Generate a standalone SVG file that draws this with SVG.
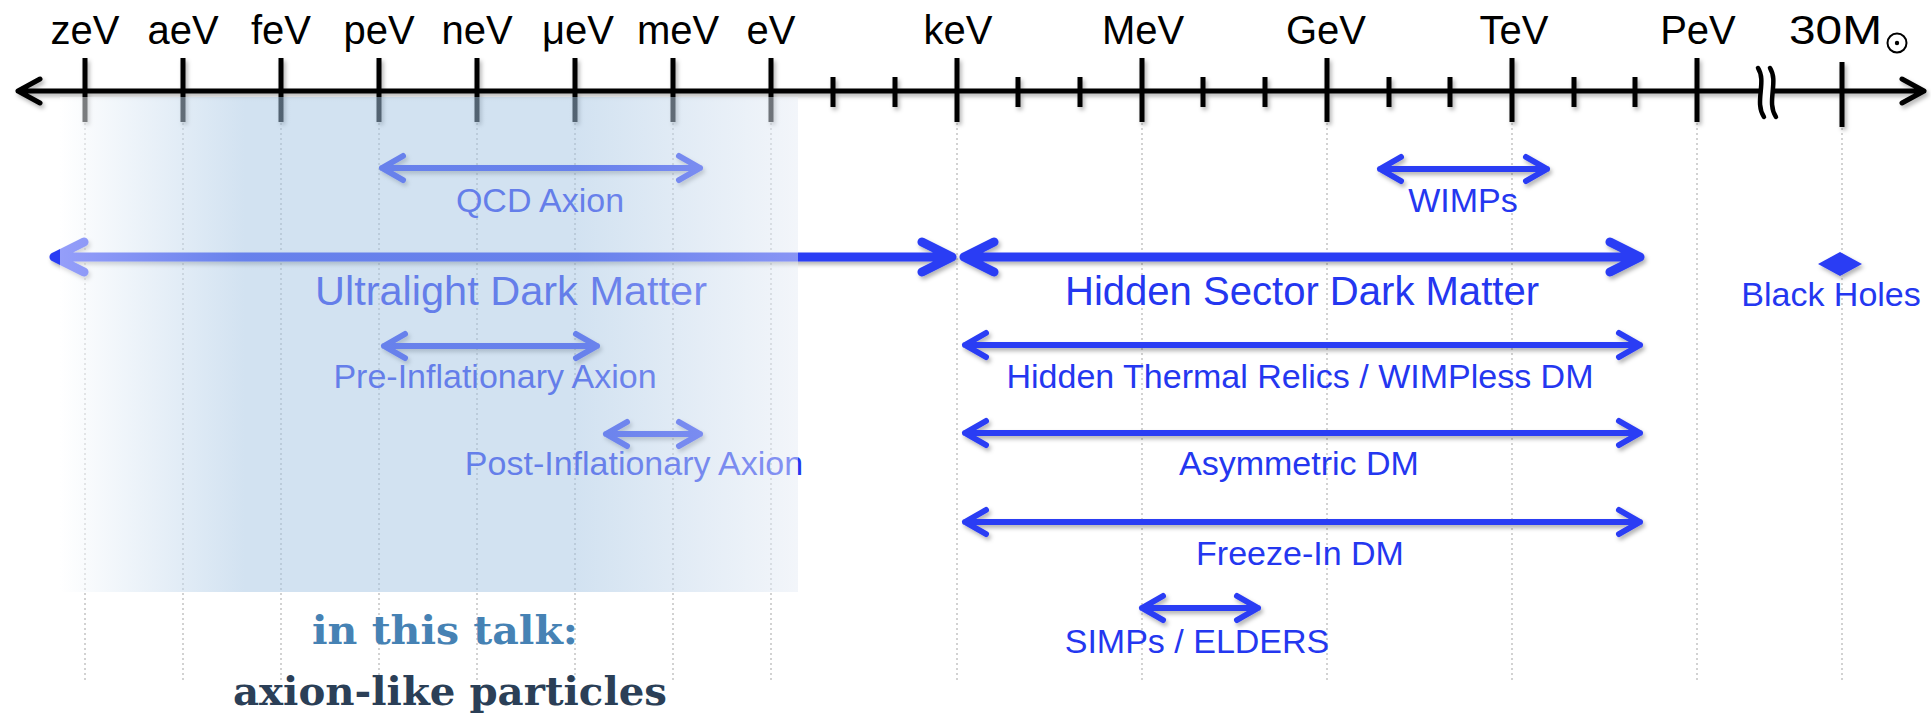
<svg xmlns="http://www.w3.org/2000/svg" width="1931" height="715" viewBox="0 0 1931 715">
<defs>
<style>
.lbl{font-family:"Liberation Sans",Arial,sans-serif;font-size:34px;fill:#2437f0;text-anchor:middle}
.big{font-size:41px}
.ax{font-family:"Liberation Sans",Arial,sans-serif;font-size:40px;fill:#000;text-anchor:middle}
.arr{fill:none;stroke:#2a3cf4;stroke-width:6;stroke-linecap:round;stroke-linejoin:round}
.thick{stroke-width:9}
.tick{stroke:#000;stroke-width:5}
.grid{stroke:#c4c4c4;stroke-width:1.5;stroke-dasharray:2 3}
.bt{font-family:"DejaVu Serif","Liberation Serif",serif;font-weight:bold;font-size:40px;text-anchor:middle}
</style>
<filter id="sh" x="-5%" y="-50%" width="110%" height="200%">
<feDropShadow dx="2" dy="3" stdDeviation="2" flood-color="#000" flood-opacity="0.3"/>
</filter>
<linearGradient id="ov" gradientUnits="userSpaceOnUse" x1="60" y1="0" x2="798" y2="0">
<stop offset="0" stop-color="#ffffff" stop-opacity="0.5"/>
<stop offset="0.25" stop-color="#a5c5e3" stop-opacity="0.5"/>
<stop offset="0.70" stop-color="#a5c5e3" stop-opacity="0.5"/>
<stop offset="1" stop-color="#e6ecf5" stop-opacity="0.5"/>
</linearGradient>
</defs>
<rect width="1931" height="715" fill="#fff"/>

<g id="grid">
<path class="grid" d="M85,123V682M183,123V682M281,123V682M379,123V682M477,123V682M575,123V682M673,123V682M771,123V682M957,123V682M1142,123V682M1327,123V682M1512,123V682M1697,123V682M1842,123V682"/>
</g>

<g id="axis">
<g filter="url(#sh)">
<path d="M40,79L18,91L40,103M18,91H1924M1902,79L1924,91L1902,103" fill="none" stroke="#000" stroke-width="5" stroke-linecap="round" stroke-linejoin="round"/>
<path class="tick" d="M85,58V122M183,58V122M281,58V122M379,58V122M477,58V122M575,58V122M673,58V122M771,58V122M957,58V122M1142,58V122M1327,58V122M1512,58V122M1697,58V122M1842,62V127"/>
<path class="tick" d="M833,77V107M895,77V107M1018,77V107M1080,77V107M1203,77V107M1265,77V107M1389,77V107M1450,77V107M1574,77V107M1635,77V107"/>
</g>
<path d="M1758,66C1767,80 1754,102 1764,119L1776,119C1766,102 1779,80 1770,66Z" fill="#fff"/>
<path d="M1758,68C1767,82 1754,102 1764,117M1770,68C1779,82 1766,102 1776,117" fill="none" stroke="#000" stroke-width="4.5" stroke-linecap="round"/>
<text class="ax" x="85" y="44">zeV</text>
<text class="ax" x="183" y="44">aeV</text>
<text class="ax" x="281" y="44">feV</text>
<text class="ax" x="379" y="44">peV</text>
<text class="ax" x="477" y="44">neV</text>
<text class="ax" x="578" y="44">μeV</text>
<text class="ax" x="678" y="44">meV</text>
<text class="ax" x="771" y="44">eV</text>
<text class="ax" x="958" y="44">keV</text>
<text class="ax" x="1143" y="44">MeV</text>
<text class="ax" x="1326" y="44">GeV</text>
<text class="ax" x="1514" y="44">TeV</text>
<text class="ax" x="1698" y="44">PeV</text>
<text class="ax" x="1789" y="44" style="text-anchor:start" textLength="93" lengthAdjust="spacingAndGlyphs">30M</text>
<circle cx="1897" cy="43" r="9.5" fill="none" stroke="#000" stroke-width="2"/>
<circle cx="1897" cy="43" r="2.2" fill="#000"/>
</g>

<g id="connectors" filter="url(#sh)">
<path id="c-qcd" class="arr" d="M403,156L382,168L403,180M382,168H700M679,156L700,168L679,180"/>
<path id="c-ultralight" class="arr thick" d="M84,242L54,257L84,272M54,257H952M922,242L952,257L922,272"/>
<path id="c-pre" class="arr" d="M405,334L384,346L405,358M384,346H597M576,334L597,346L576,358"/>
<path id="c-post" class="arr" d="M627,422L606,434L627,446M606,434H700M679,422L700,434L679,446"/>
<path id="c-wimps" class="arr" d="M1401,157L1380,169L1401,181M1380,169H1547M1526,157L1547,169L1526,181"/>
<path id="c-hidden" class="arr thick" d="M994,242L964,257L994,272M964,257H1640M1610,242L1640,257L1610,272"/>
<path id="c-thermal" class="arr" d="M986,333L965,345L986,357M965,345H1640M1619,333L1640,345L1619,357"/>
<path id="c-asym" class="arr" d="M986,421L965,433L986,445M965,433H1640M1619,421L1640,433L1619,445"/>
<path id="c-freeze" class="arr" d="M986,510L965,522L986,534M965,522H1640M1619,510L1640,522L1619,534"/>
<path id="c-simps" class="arr" d="M1163,596L1142,608L1163,620M1142,608H1258M1237,596L1258,608L1237,620"/>
<polygon id="c-bh" points="1818,264 1840,252 1862,264 1840,276" fill="#2a3cf4"/>
</g>

<g id="n-qcd"><text class="lbl" x="540" y="212">QCD Axion</text></g>
<g id="n-ultralight"><text class="lbl big" x="511" y="305" textLength="392" lengthAdjust="spacingAndGlyphs">Ultralight Dark Matter</text></g>
<g id="n-pre"><text class="lbl" x="495" y="388">Pre-Inflationary Axion</text></g>
<g id="n-post"><text class="lbl" x="634" y="475">Post-Inflationary Axion</text></g>
<g id="n-wimps"><text class="lbl" x="1463" y="212">WIMPs</text></g>
<g id="n-hidden"><text class="lbl big" x="1302" y="305" textLength="474" lengthAdjust="spacingAndGlyphs">Hidden Sector Dark Matter</text></g>
<g id="n-bh"><text class="lbl" x="1831" y="306">Black Holes</text></g>
<g id="n-thermal"><text class="lbl" x="1300" y="388">Hidden Thermal Relics / WIMPless DM</text></g>
<g id="n-asym"><text class="lbl" x="1299" y="475">Asymmetric DM</text></g>
<g id="n-freeze"><text class="lbl" x="1300" y="565">Freeze-In DM</text></g>
<g id="n-simps"><text class="lbl" x="1197" y="653">SIMPs / ELDERS</text></g>

<g id="overlay">
<rect x="60" y="97" width="738" height="495" fill="url(#ov)"/>
</g>

<g id="n-talk">
<text class="bt" x="445" y="644" fill="#4682b4" textLength="266" lengthAdjust="spacingAndGlyphs">in this talk:</text>
<text class="bt" x="450" y="705" fill="#2b3f57" textLength="434" lengthAdjust="spacingAndGlyphs">axion-like particles</text>
</g>
</svg>
